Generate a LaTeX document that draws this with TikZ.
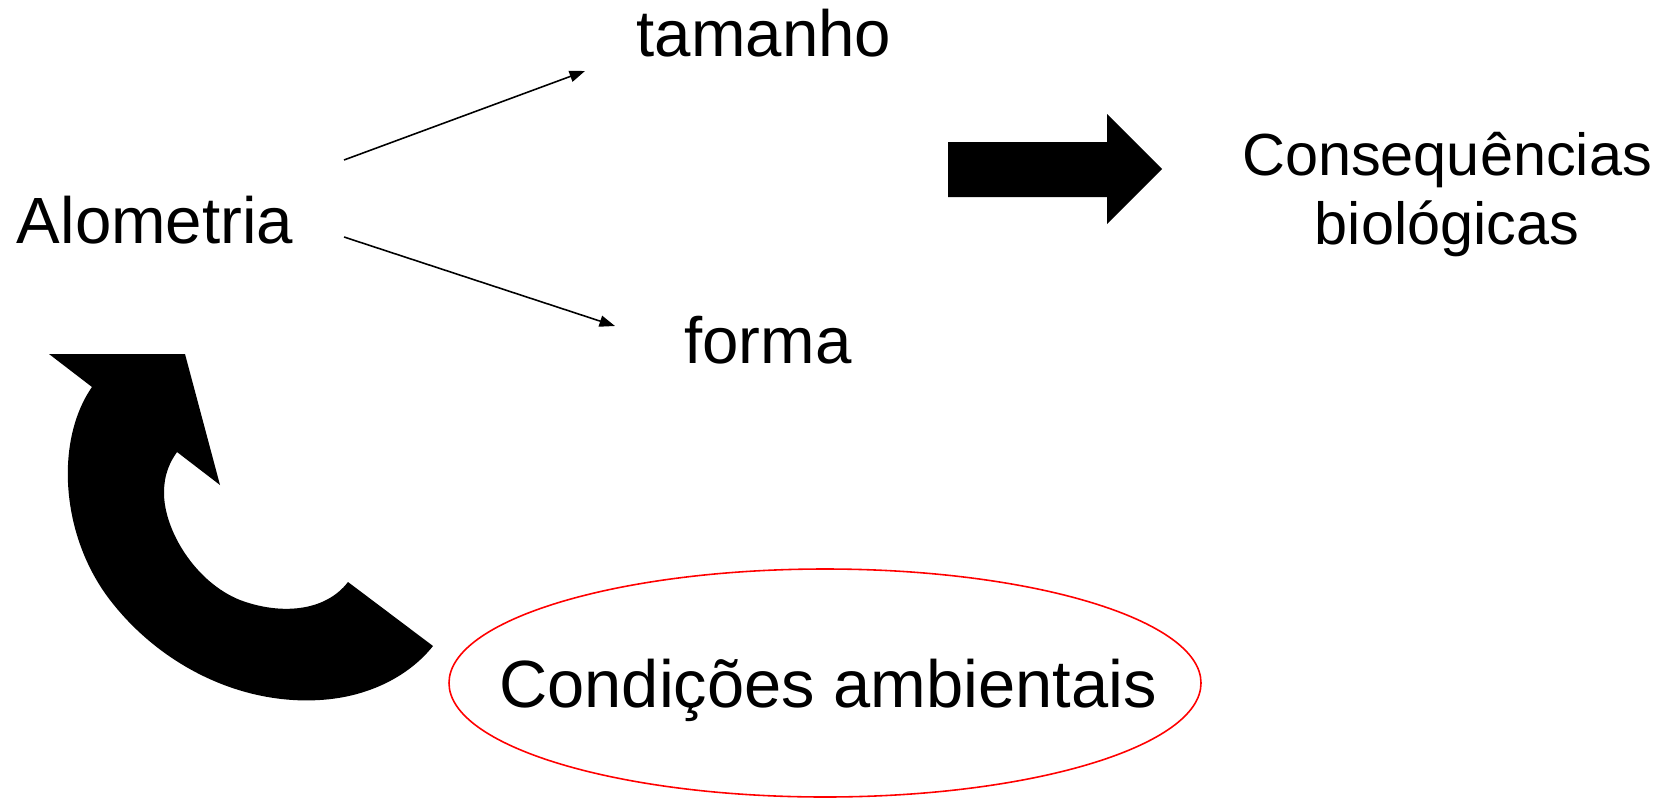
\documentclass[tikz,border=0pt]{standalone}
\usepackage{fontspec}
\setmainfont{Liberation Sans}
\usetikzlibrary{arrows.meta,shapes.geometric}

\begin{document}
\begin{tikzpicture}[
  x=0.01cm, y=-0.01cm,
  every node/.style={inner sep=0pt, font=\fontsize{18.6}{19.6}\selectfont, align=center},
  term/.style={anchor=base},
  arrow/.style={-{Triangle[length=4.4pt,width=3.2pt]}, line width=0.45pt},
  bigarrow/.style={fill=black, draw=none}
]
\useasboundingbox (0,0) rectangle (1673,797);

% Terms
\node[term] (alo) at (155,243) {Alometria};
\node[term] (tam) at (764,57) {tamanho};
\node[term] (forma) at (768,363) {forma};
\node[term, font=\fontsize{16.9}{19.4}\selectfont] (cons) at (1447,244) {Consequências\\biológicas};

% Environment
\draw[draw=red, line width=0.45pt] (825,683) ellipse [x radius=376, y radius=114];
\node[term, font=\fontsize{19}{20}\selectfont] (amb) at (828,707) {Condições ambientais};

% Thin arrows
\coordinate (alo-up) at (344,160);
\coordinate (alo-dn) at (344,237);
\coordinate (tam-in) at (585,71);
\coordinate (forma-in) at (615,326);
\draw[arrow] (alo-up) -- (tam-in);
\draw[arrow] (alo-dn) -- (forma-in);

% Block arrow
\fill[bigarrow] (948,142) -- (1107,142) -- (1107,114) -- (1162,169)
  -- (1107,224) -- (1107,197) -- (948,197) -- cycle;

% Curved arrow
\fill[bigarrow] (49,354) -- (185,354) -- (220,485) -- (177,452)
  .. controls (170,462) and (164,474) .. (164,493)
  .. controls (164,530) and (195,582) .. (240,600)
  .. controls (280,615) and (325,612) .. (348,582)
  -- (433,646)
  .. controls (410,675) and (370,697) .. (320,700)
  .. controls (240,705) and (160,665) .. (110,600)
  .. controls (60,535) and (55,440) .. (92,387) -- cycle;

\end{tikzpicture}
\end{document}
